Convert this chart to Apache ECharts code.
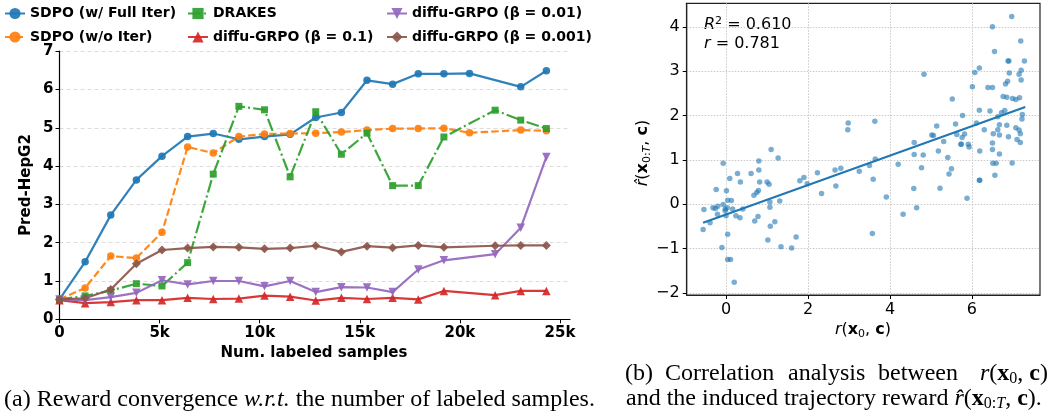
<!DOCTYPE html>
<html>
<head>
<meta charset="utf-8">
<script src="https://cdn.jsdelivr.net/npm/echarts@6/dist/echarts.min.js"></script>
<style>
  html, body { margin: 0; padding: 0; background: #fff; }
  #chart { width: 1052px; height: 413px; }
</style>
</head>
<body>
<div id="chart"></div>
<script>
// left panel: reward vs number of labeled samples
const sampleCounts = [0, 1280, 2560, 3840, 5120, 6400, 7680, 8960, 10240, 11520,
  12800, 14080, 15360, 16640, 17920, 19200, 20480, 21760, 23040, 24320];
const sampleTicks = [0, 5000, 10000, 15000, 20000, 25000];

const sdpoFull   = [0.52, 1.50, 2.72, 3.64, 4.26, 4.77, 4.85, 4.70, 4.77, 4.83, 5.27, 5.40, 6.24, 6.14, 6.41, 6.41, 6.42, null, 6.07, 6.49];
const sdpoNoIter = [0.52, 0.82, 1.65, 1.60, 2.27, 4.50, 4.34, 4.77, 4.84, 4.85, 4.86, 4.89, 4.94, 4.98, 4.98, 4.99, 4.87, null, 4.94, 4.92];
const drakes     = [0.52, 0.61, 0.75, 0.93, 0.87, 1.48, 3.79, 5.56, 5.47, 3.72, 5.42, 4.31, 4.86, 3.49, 3.49, 4.76, null, 5.46, 5.20, 4.98];
const grpoB01    = [0.50, 0.42, 0.45, 0.50, 0.50, 0.56, 0.53, 0.54, 0.62, 0.59, 0.49, 0.56, 0.53, 0.56, 0.52, 0.74, null, 0.63, 0.74, 0.74];
const grpoB001   = [0.52, 0.50, 0.58, 0.69, 1.02, 0.91, 1.00, 1.00, 0.86, 1.00, 0.71, 0.84, 0.83, 0.71, 1.30, 1.54, null, 1.70, 2.39, 4.24];
const grpoB0001  = [0.52, 0.55, 0.78, 1.45, 1.81, 1.86, 1.89, 1.88, 1.84, 1.86, 1.92, 1.76, 1.91, 1.87, 1.93, 1.88, null, 1.92, 1.93, 1.93];

// right panel: r(x0,c) vs induced trajectory reward
const corrPoints = [
  [1.10,1.23],[1.27,1.04],[-0.07,0.92],[0.80,0.97],[0.28,0.69],[0.61,0.69],[0.80,0.77],[0.09,0.58],[0.35,0.50],[0.82,0.50],
  [1.00,0.50],[1.05,0.45],[-0.24,0.33],[0.01,0.30],[0.79,0.31],[0.75,0.26],[0.68,0.20],[0.04,0.09],[0.13,0.08],[1.07,0.05],
  [1.31,0.07],[-0.07,-0.01],[-0.20,-0.05],[-0.32,-0.08],[-0.26,-0.10],[-0.54,-0.12],[-0.02,-0.11],[0.03,-0.08],[0.16,-0.11],[-0.02,-0.15],
  [-0.21,-0.23],[0.00,-0.26],[0.24,-0.26],[0.34,-0.31],[0.41,-0.11],[1.07,-0.07],[-0.39,-0.42],[0.70,-0.38],[0.78,-0.28],[-0.56,-0.57],
  [1.08,-0.50],[1.19,-0.40],[0.04,-0.68],[1.02,-0.81],[1.71,-0.74],[-0.10,-0.98],[1.34,-0.96],[1.60,-0.99],[0.04,-1.25],[0.11,-1.25],
  [0.20,-1.76],
  [1.80,0.53],[1.90,0.60],[1.98,0.46],[2.23,0.71],[2.33,0.24],[2.66,0.77],[2.80,0.81],[2.68,0.41],[2.98,1.83],[2.97,1.68],
  [3.25,0.74],[3.50,0.87],[3.63,1.87],[3.64,1.02],[3.59,0.56],[3.57,-0.66],[3.91,0.16],[4.20,0.90],[4.32,-0.23],[4.59,1.39],
  [4.59,1.12],[4.58,0.35],[4.65,-0.08],[4.77,0.82],[4.81,1.11],[4.83,2.93],
  [6.97,4.23],[6.50,4.00],[7.19,3.68],[6.55,3.44],[6.88,3.23],[6.90,3.23],[7.28,3.23],[6.07,2.97],[6.18,3.07],[6.91,2.96],
  [7.20,3.02],[7.15,2.93],[7.20,2.80],[6.87,2.77],[6.82,2.71],[6.01,2.65],[6.39,2.63],[6.50,2.63],[5.52,2.37],[6.76,2.43],
  [6.85,2.41],[6.99,2.38],[7.07,2.36],[7.16,2.40],[6.18,2.12],[6.44,2.10],[6.72,2.06],[6.80,2.11],[5.77,2.00],[7.23,2.02],
  [7.22,1.92],[6.63,1.97],[6.11,1.83],[5.60,1.81],[5.14,1.76],[6.67,1.79],[6.85,1.78],[7.07,1.72],[6.30,1.68],
  [7.15,1.67],[7.18,1.59],[6.63,1.68],[6.52,1.59],[6.67,1.56],[6.89,1.52],[7.10,1.46],[7.18,1.39],[5.06,1.55],[5.02,1.56],
  [5.31,1.41],[5.63,1.57],[5.82,1.58],[5.76,1.50],[5.73,1.35],[5.74,1.35],[5.91,1.35],[5.93,1.29],[6.50,1.38],[6.50,1.23],
  [6.19,1.20],[6.67,1.13],[5.18,1.20],[5.41,1.05],[5.50,0.80],[5.44,0.68],[6.51,0.92],[6.59,0.92],[6.98,0.93],[6.56,0.65],
  [6.18,0.54],[6.19,0.54],[5.22,0.36],[5.88,0.13]
];
const fitLine = [[-0.56, -0.42], [7.30, 2.19]];
const corrXTicks = [0, 2, 4, 6];
const corrYTicks = [-2, -1, 0, 1, 2, 3, 4];

(function () {
  const SANS = 'DejaVu Sans';
  const SERIF = 'Liberation Serif';
  const CAP = 24;

  function pairs(ys) {
    return sampleCounts.map((x, i) => [x, ys[i]]).filter(p => p[1] != null);
  }

  const lineDefs = [
    { name: 'SDPO (w/ Full Iter)', data: sdpoFull, color: '#1f77b4', symbol: 'circle', size: 7.5, dash: 'solid' },
    { name: 'SDPO (w/o Iter)', data: sdpoNoIter, color: '#ff7f0e', symbol: 'circle', size: 7.5, dash: [7.4, 3.2] },
    { name: 'DRAKES', data: drakes, color: '#2ca02c', symbol: 'rect', size: 7, dash: [12.8, 3.2, 2, 3.2] },
    { name: 'diffu-GRPO (β = 0.1)', data: grpoB01, color: '#d62728', symbol: 'triangle', size: 8.5, dash: 'solid' },
    { name: 'diffu-GRPO (β = 0.01)', data: grpoB001, color: '#9467bd', symbol: 'triangle', rotate: 180, size: 8.5, dash: 'solid' },
    { name: 'diffu-GRPO (β = 0.001)', data: grpoB0001, color: '#8c564b', symbol: 'diamond', size: 9, dash: 'solid' }
  ];

  const series = lineDefs.map(d => ({
    name: d.name,
    type: 'line',
    xAxisIndex: 0,
    yAxisIndex: 0,
    data: pairs(d.data),
    symbol: d.symbol,
    symbolSize: d.size,
    symbolRotate: d.rotate || 0,
    showAllSymbol: true,
    itemStyle: { color: d.color, opacity: 0.92 },
    lineStyle: { color: d.color, width: 2.2, type: d.dash, opacity: 0.92 },
    emphasis: { disabled: true }
  }));

  series.push({
    type: 'scatter',
    xAxisIndex: 1,
    yAxisIndex: 1,
    data: corrPoints,
    symbolSize: 5.5,
    itemStyle: { color: '#1f77b4', opacity: 0.6 },
    emphasis: { disabled: true }
  });
  series.push({
    type: 'line',
    xAxisIndex: 1,
    yAxisIndex: 1,
    data: fitLine,
    showSymbol: false,
    lineStyle: { color: '#1f77b4', width: 2 },
    z: 5,
    emphasis: { disabled: true }
  });

  const legendBase = {
    orient: 'vertical',
    top: 6.5,
    padding: 0,
    itemWidth: 20,
    itemHeight: 14,
    itemGap: 9.5,
    textStyle: { fontFamily: SANS, fontWeight: 'bold', fontSize: 14, color: '#000' },
    selectedMode: false
  };
  const legends = [
    Object.assign({}, legendBase, { left: 4, data: [lineDefs[0].name, lineDefs[1].name] }),
    Object.assign({}, legendBase, { left: 187, data: [lineDefs[2].name, lineDefs[3].name] }),
    Object.assign({}, legendBase, { left: 386, data: [lineDefs[4].name, lineDefs[5].name] })
  ];

  const boldTick = { fontFamily: SANS, fontWeight: 'bold', fontSize: 15, color: '#000' };
  const plainTick = { fontFamily: SANS, fontSize: 16, color: '#000' };
  const minus = v => (v < 0 ? '\u2212' + Math.abs(v) : String(v));

  const mathRich = {
    it: { fontFamily: SANS, fontStyle: 'italic', fontSize: 16 },
    bf: { fontFamily: SANS, fontWeight: 'bold', fontSize: 16 },
    sub: { fontFamily: SANS, fontSize: 11, padding: [8, 0, 0, 0] },
    subit: { fontFamily: SANS, fontStyle: 'italic', fontSize: 11, padding: [8, 0, 0, 0] }
  };
  const capRich = {
    it: { fontFamily: SERIF, fontStyle: 'italic', fontSize: CAP },
    bf: { fontFamily: SERIF, fontWeight: 'bold', fontSize: CAP },
    sub: { fontFamily: SERIF, fontSize: 16, padding: [10, 0, 0, 0] },
    subit: { fontFamily: SERIF, fontStyle: 'italic', fontSize: 16, padding: [10, 0, 0, 0] }
  };

  function txt(x, y, text, opts) {
    return {
      type: 'text', x: x, y: y, rotation: (opts && opts.rotation) || 0, silent: true,
      style: Object.assign({
        text: text, fill: '#000', align: 'left', verticalAlign: 'middle'
      }, opts && opts.style)
    };
  }
  const capStyle = extra => Object.assign({ fontFamily: SERIF, fontSize: CAP, rich: capRich }, extra);

  const graphics = [
    // left axis names
    txt(26, 185, 'Pred-HepG2', { rotation: Math.PI / 2, style: { align: 'center', fontFamily: SANS, fontWeight: 'bold', fontSize: 15 } }),
    txt(314, 353, 'Num. labeled samples', { style: { align: 'center', fontFamily: SANS, fontWeight: 'bold', fontSize: 15 } }),
    // right annotations
    txt(704, 25, '{it|R}{sup|2} = 0.610', { style: { fontFamily: SANS, fontSize: 16, rich: { it: { fontFamily: SANS, fontStyle: 'italic', fontSize: 16 }, sup: { fontFamily: SANS, fontSize: 11, padding: [0, 0, 8, 0] } } } }),
    txt(704, 44, '{it|r} = 0.781', { style: { fontFamily: SANS, fontSize: 16, rich: mathRich } }),
    txt(863, 330, '{it|r}({bf|x}{sub|0}, {bf|c})', { style: { align: 'center', fontFamily: SANS, fontSize: 16, rich: mathRich } }),
    txt(643, 153, '{it|r\u0302}({bf|x}{sub|0:}{subit|T}, {bf|c})', { rotation: Math.PI / 2, style: { align: 'center', fontFamily: SANS, fontSize: 16, rich: mathRich } }),
    // captions
    txt(4, 400, '(a) Reward convergence {it|w.r.t.} the number of labeled samples.', { style: capStyle() }),
    txt(625, 374, '(b)', { style: capStyle() }),
    txt(665, 374, 'Correlation', { style: capStyle() }),
    txt(788, 374, 'analysis', { style: capStyle() }),
    txt(878, 374, 'between', { style: capStyle() }),
    txt(1048, 374, '{it|r}({bf|x}{sub|0}, {bf|c})', { style: capStyle({ align: 'right' }) }),
    txt(626, 399, 'and the induced trajectory reward {it|r\u0302}({bf|x}{sub|0:}{subit|T}, {bf|c}).', { style: capStyle() })
  ];

  const option = {
    animation: false,
    backgroundColor: '#fff',
    legend: legends,
    grid: [
      { left: 59.5, right: 482, top: 51.2, bottom: 93.7, containLabel: false },
      { left: 686.7, right: 12, top: 3.3, bottom: 118, containLabel: false, show: true, borderColor: '#222', borderWidth: 1.2, backgroundColor: 'transparent' }
    ],
    xAxis: [
      {
        gridIndex: 0, type: 'value', min: 0, max: 25500,
        axisLine: { show: true, lineStyle: { color: '#000', width: 1.2 } },
        axisTick: { show: true, length: 4, lineStyle: { color: '#000' }, customValues: sampleTicks },
        axisLabel: { customValues: sampleTicks, margin: 6, formatter: v => (v === 0 ? '0' : v / 1000 + 'k'), ...boldTick },
        splitLine: { show: false }
      },
      {
        gridIndex: 1, type: 'value', min: -0.96, max: 7.66,
        axisLine: { show: true, onZero: false, lineStyle: { color: '#222', width: 1.2 } },
        axisTick: { show: true, length: 4, lineStyle: { color: '#000' }, customValues: corrXTicks },
        axisLabel: { customValues: corrXTicks, margin: 7, formatter: minus, ...plainTick },
        splitLine: { show: true, lineStyle: { color: '#c8c8c8', type: [1.5, 1.5], width: 1 } }
      }
    ],
    yAxis: [
      {
        gridIndex: 0, type: 'value', min: 0, max: 7, interval: 1,
        axisLine: { show: true, lineStyle: { color: '#000', width: 1.2 } },
        axisTick: { show: true, length: 4, lineStyle: { color: '#000' } },
        axisLabel: { margin: 6, ...boldTick },
        splitLine: { show: true, lineStyle: { color: '#dcdcdc', type: [4, 3], width: 1 } }
      },
      {
        gridIndex: 1, type: 'value', min: -2.05, max: 4.53,
        axisLine: { show: true, onZero: false, lineStyle: { color: '#222', width: 1.2 } },
        axisTick: { show: true, length: 4, lineStyle: { color: '#000' }, customValues: corrYTicks },
        axisLabel: { customValues: corrYTicks, margin: 7, formatter: minus, ...plainTick },
        splitLine: { show: true, lineStyle: { color: '#c8c8c8', type: [1.5, 1.5], width: 1 } }
      }
    ],
    graphic: graphics,
    series: series
  };

  const chart = echarts.init(document.getElementById('chart'), null, { renderer: 'canvas' });
  chart.setOption(option);
})();
</script>
</body>
</html>
